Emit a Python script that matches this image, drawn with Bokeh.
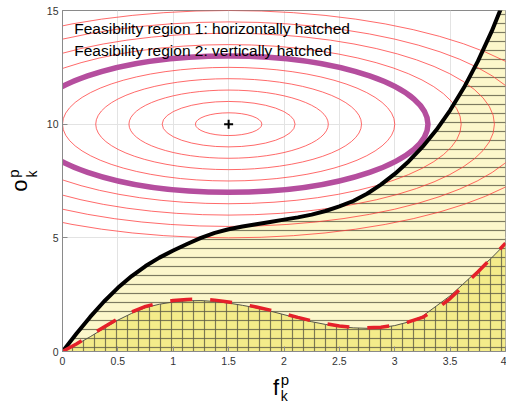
import numpy as np
from bokeh.plotting import figure
from bokeh.models import Range1d, Label, FixedTicker, LinearAxis
from bokeh.embed import file_html
from bokeh.resources import INLINE

# ---------------- data ----------------
curve_x = [0.0, 0.125, 0.25, 0.375, 0.5, 0.625, 0.75, 0.875, 1.0, 1.125, 1.25, 1.375,
           1.5, 1.625, 1.75, 1.875, 2.0, 2.125, 2.25, 2.375, 2.5, 2.625, 2.75, 2.875,
           3.0, 3.125, 3.25, 3.375, 3.5, 3.625, 3.75, 3.875, 4.0]

# upper boundary of feasibility region 1 (thick black curve)
region1_upper = [0.0, 0.78, 1.52, 2.2, 2.8, 3.32, 3.76, 4.13, 4.44, 4.73, 5.0, 5.22,
                 5.38, 5.5, 5.6, 5.7, 5.8, 5.9, 6.02, 6.18, 6.38, 6.62, 6.94, 7.34,
                 7.81, 8.36, 9.0, 9.74, 10.61, 11.61, 12.76, 14.08, 15.58]

# upper boundary of feasibility region 2 (thin dark curve)
region2_upper = [0.0, 0.3, 0.65, 1.02, 1.38, 1.68, 1.93, 2.08, 2.18, 2.23, 2.24, 2.2,
                 2.13, 2.03, 1.92, 1.78, 1.62, 1.46, 1.31, 1.19, 1.1, 1.04, 1.02, 1.05,
                 1.14, 1.3, 1.55, 2.0, 2.45, 3.0, 3.57, 4.12, 4.74]

# red dashed approximation of the region-2 boundary
approx_curve = [0.0, 0.33, 0.7, 1.08, 1.44, 1.74, 1.98, 2.14, 2.24, 2.29, 2.3, 2.26,
                2.18, 2.08, 1.96, 1.82, 1.66, 1.5, 1.35, 1.22, 1.12, 1.06, 1.04, 1.07,
                1.15, 1.3, 1.5, 1.86, 2.33, 2.9, 3.5, 4.12, 4.76]

# objective contours: common centre, full widths / heights of the ellipses
centre_x = [1.5]
centre_y = [10.0]
contour_widths = [0.6, 1.2, 1.8, 2.4, 3.0, 3.6, 4.2, 4.8, 5.4, 6.0]
contour_heights = [1.0, 2.0, 3.0, 4.0, 5.0, 6.0, 7.0, 8.0, 9.0, 10.0]
optimal_width = [3.6]
optimal_height = [6.0]

x_ticks = [0, 0.5, 1, 1.5, 2, 2.5, 3, 3.5, 4]
x_tick_labels = ["0", "0.5", "1", "1.5", "2", "2.5", "3", "3.5", "4"]
y_ticks = [0, 5, 10, 15]
y_tick_labels = ["0", "5", "10", "15"]

legend_lines = ["Feasibility region 1: horizontally hatched",
                "Feasibility region 2: vertically hatched"]

# axis-label pieces: (text, position along the axis in data units, font size, standoff)
x_label_parts = [("p", 2.008, "15px", 3), ("k", 2.003, "14px", -3), ("f", 1.928, "22px", -32)]
y_label_parts = [("k", 7.81, "14px", 3), ("o", 7.30, "22px", -11), ("p", 7.83, "15px", -18)]

# ---------------- figure ----------------
FONT = "Liberation Sans"
p = figure(frame_width=443, frame_height=341, output_backend="svg", toolbar_location=None,
           x_range=Range1d(0, 4), y_range=Range1d(0, 15),
           min_border_left=62, min_border_right=1, min_border_top=10, min_border_bottom=52)
p.background_fill_color = "white"
p.border_fill_color = "white"
p.outline_line_color = "#8a8a8a"
p.outline_line_width = 1

for ax, ticks, labels, so in ((p.xaxis, x_ticks, x_tick_labels, 5),
                              (p.yaxis, y_ticks, y_tick_labels, 4)):
    ax.ticker = FixedTicker(ticks=ticks)
    ax.major_label_overrides = {t: l for t, l in zip(ticks, labels)}
    ax.axis_line_color = "#8a8a8a"
    ax.major_tick_line_color = "#8a8a8a"
    ax.major_tick_in = 5
    ax.major_tick_out = 0
    ax.minor_tick_line_color = None
    ax.major_label_text_font = FONT
    ax.major_label_text_font_size = "10.5px"
    ax.major_label_text_color = "#333333"
    ax.major_label_standoff = so

p.grid.grid_line_color = "#e3e3e3"
p.xgrid.ticker = FixedTicker(ticks=x_ticks)
p.ygrid.ticker = FixedTicker(ticks=y_ticks)


def label_axis(text, pos, size, standoff, side):
    ax = LinearAxis(ticker=FixedTicker(ticks=[pos], minor_ticks=[]),
                    major_label_overrides={pos: text},
                    axis_line_color=None, major_tick_line_color=None,
                    minor_tick_line_color=None, major_tick_in=0, major_tick_out=0,
                    major_label_standoff=standoff, major_label_text_font=FONT,
                    major_label_text_font_size=size, major_label_text_color="black")
    if side == "left":
        ax.major_label_orientation = "parallel"
    p.add_layout(ax, side)


for t, pos, size, so in x_label_parts:
    label_axis(t, pos, size, so, "below")
for t, pos, size, so in y_label_parts:
    label_axis(t, pos, size, so, "left")

zeros = [0.0] * len(curve_x)

# fills
p.varea(x=curve_x, y1=zeros, y2=region1_upper, fill_color="#fcf7cb", fill_alpha=1.0)
p.varea(x=curve_x, y1=zeros, y2=region2_upper, fill_color="#f4ec8a", fill_alpha=1.0)
# hatching
p.varea(x=curve_x, y1=zeros, y2=region1_upper, fill_color="white", fill_alpha=0.0,
        hatch_pattern="horizontal_line", hatch_scale=9, hatch_weight=1.2,
        hatch_color="#5e5d45", hatch_alpha=0.8)
p.varea(x=curve_x, y1=zeros, y2=region2_upper, fill_color="white", fill_alpha=0.0,
        hatch_pattern="vertical_line", hatch_scale=11, hatch_weight=1.2,
        hatch_color="#5e5d45", hatch_alpha=0.8)

p.line(curve_x, region2_upper, line_color="#55554a", line_width=1)

# objective contours
n = len(contour_widths)
p.ellipse(x=centre_x * n, y=centre_y * n, width=contour_widths, height=contour_heights,
          fill_alpha=0, line_color="#ff3b3b", line_alpha=0.85, line_width=0.9)
p.ellipse(x=centre_x, y=centre_y, width=optimal_width, height=optimal_height,
          fill_alpha=0, line_color="#b54e9e", line_width=5.5)

p.line(curve_x, region1_upper, line_color="black", line_width=4)
p.line(curve_x, approx_curve, line_color="#e5202a", line_width=3.5, line_dash="22 18")

p.scatter(centre_x, centre_y, marker="cross", size=9, line_width=2, color="black")

# legend-like texts (data units, top-left)
for txt, yb in zip(legend_lines, [14.21, 13.24]):
    p.add_layout(Label(x=0.106, y=yb, text=txt, text_font=FONT, text_font_size="15.5px",
                       text_color="black", text_baseline="alphabetic", text_align="left"))

open("out.html", "w").write(file_html(p, INLINE))
